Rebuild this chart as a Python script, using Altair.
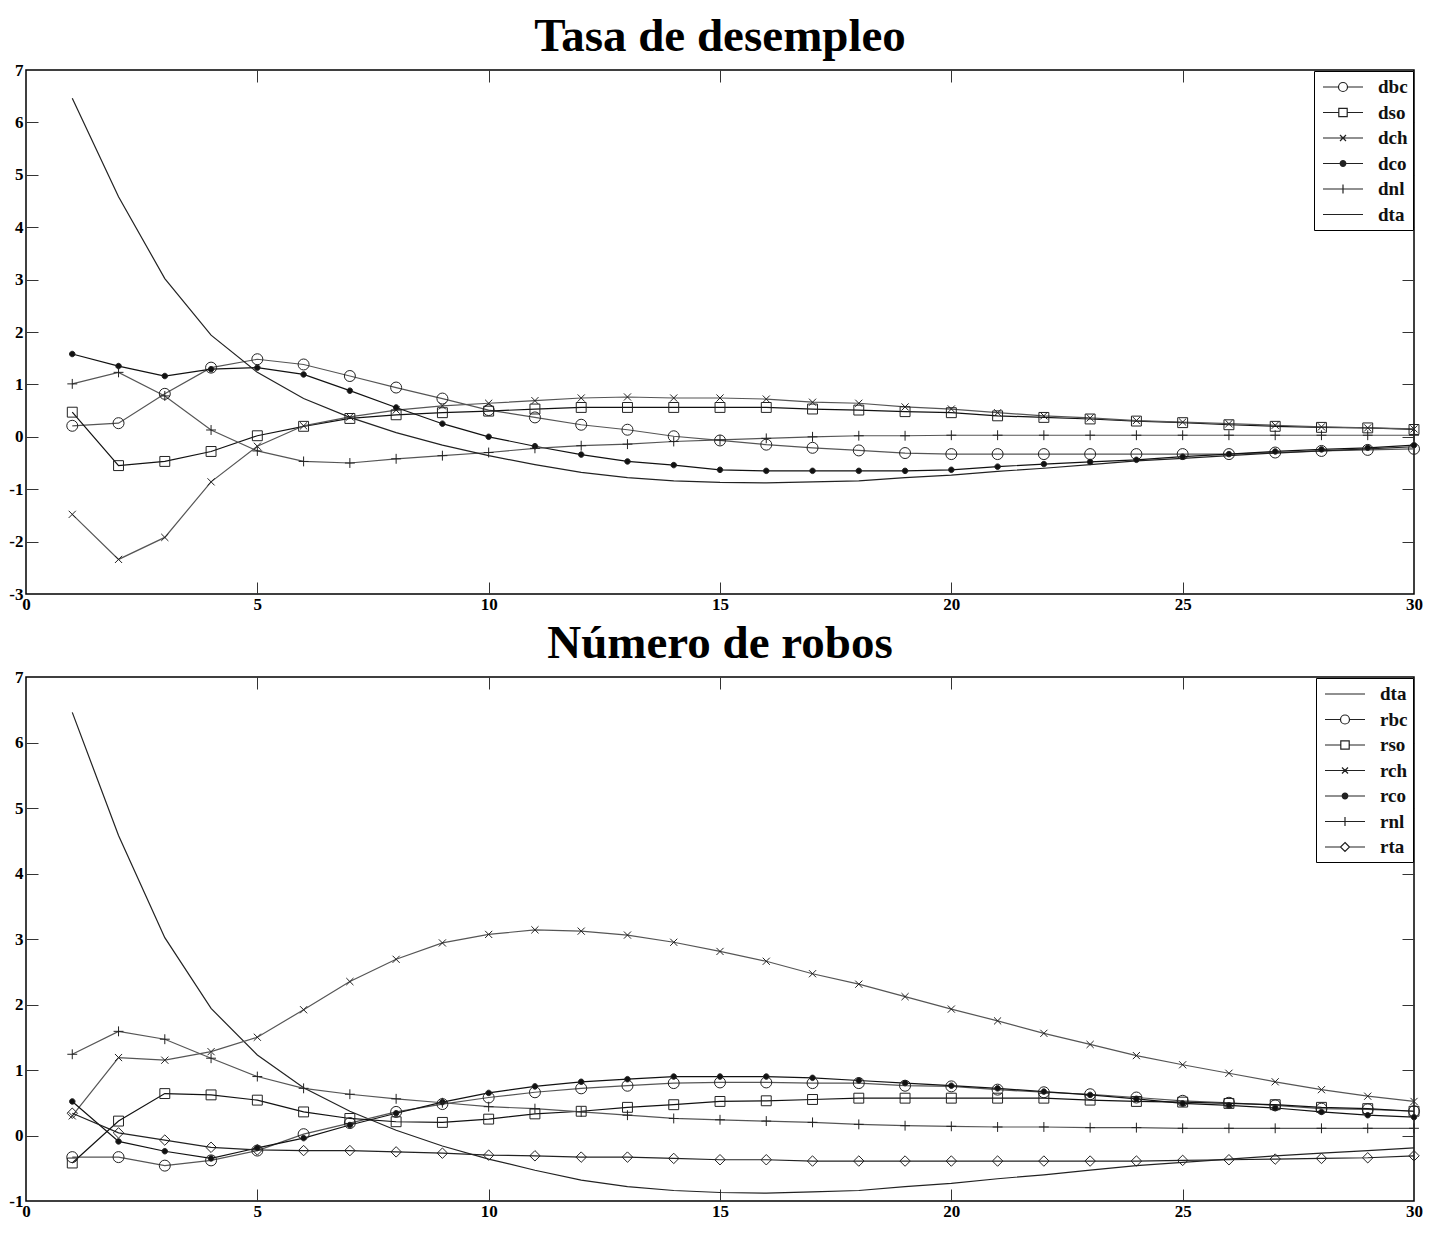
import altair as alt
import pandas as pd

periods = list(range(1, 31))

# --- Tasa de desempleo ---
dbc = [0.21, 0.26, 0.82, 1.32, 1.48, 1.38, 1.16, 0.94, 0.73, 0.51, 0.37, 0.23, 0.135, 0.01, -0.07,
       -0.15, -0.21, -0.26, -0.31, -0.33, -0.33, -0.33, -0.33, -0.33, -0.33, -0.33, -0.30, -0.27, -0.25, -0.23]
dso = [0.47, -0.55, -0.47, -0.28, 0.02, 0.20, 0.35, 0.42, 0.46, 0.49, 0.53, 0.56, 0.56, 0.56, 0.56,
       0.56, 0.53, 0.51, 0.48, 0.46, 0.40, 0.37, 0.34, 0.30, 0.27, 0.23, 0.20, 0.18, 0.17, 0.14]
dch = [-1.48, -2.34, -1.92, -0.86, -0.18, 0.21, 0.38, 0.51, 0.59, 0.64, 0.69, 0.74, 0.76, 0.74, 0.74,
       0.72, 0.66, 0.64, 0.57, 0.53, 0.46, 0.40, 0.36, 0.31, 0.28, 0.25, 0.22, 0.19, 0.17, 0.15]
dco = [1.58, 1.35, 1.16, 1.29, 1.32, 1.19, 0.88, 0.56, 0.25, 0.00, -0.18, -0.34, -0.47, -0.54, -0.63,
       -0.65, -0.65, -0.65, -0.65, -0.63, -0.57, -0.52, -0.48, -0.44, -0.38, -0.33, -0.28, -0.24, -0.21, -0.16]
dnl = [1.01, 1.23, 0.78, 0.13, -0.27, -0.47, -0.50, -0.42, -0.36, -0.30, -0.22, -0.17, -0.14, -0.09, -0.06,
       -0.03, 0.00, 0.02, 0.02, 0.03, 0.03, 0.03, 0.03, 0.03, 0.03, 0.03, 0.03, 0.03, 0.03, 0.03]
dta = [6.46, 4.58, 3.02, 1.94, 1.23, 0.73, 0.37, 0.08, -0.16, -0.36, -0.53, -0.68, -0.78, -0.84, -0.87,
       -0.88, -0.86, -0.84, -0.78, -0.73, -0.66, -0.60, -0.53, -0.46, -0.41, -0.36, -0.31, -0.27, -0.23, -0.19]

# --- Número de robos ---
rbc = [-0.33, -0.33, -0.46, -0.38, -0.23, 0.02, 0.19, 0.36, 0.48, 0.58, 0.66, 0.72, 0.76, 0.80, 0.81,
       0.81, 0.80, 0.80, 0.76, 0.75, 0.70, 0.66, 0.63, 0.58, 0.53, 0.50, 0.46, 0.41, 0.40, 0.37]
rso = [-0.42, 0.22, 0.64, 0.62, 0.54, 0.36, 0.26, 0.21, 0.20, 0.25, 0.33, 0.37, 0.43, 0.47, 0.52,
       0.53, 0.55, 0.57, 0.57, 0.57, 0.57, 0.57, 0.54, 0.52, 0.51, 0.49, 0.47, 0.43, 0.41, 0.37]
rch = [0.30, 1.19, 1.15, 1.28, 1.50, 1.92, 2.35, 2.69, 2.94, 3.07, 3.14, 3.12, 3.06, 2.95, 2.81,
       2.66, 2.47, 2.31, 2.12, 1.93, 1.75, 1.56, 1.39, 1.22, 1.08, 0.95, 0.82, 0.70, 0.60, 0.52]
rco = [0.52, -0.09, -0.24, -0.35, -0.19, -0.04, 0.16, 0.34, 0.51, 0.65, 0.75, 0.82, 0.86, 0.90, 0.90,
       0.90, 0.88, 0.84, 0.80, 0.76, 0.72, 0.67, 0.62, 0.56, 0.49, 0.46, 0.42, 0.36, 0.31, 0.28]
rnl = [1.24, 1.59, 1.47, 1.18, 0.90, 0.72, 0.63, 0.56, 0.50, 0.44, 0.41, 0.36, 0.31, 0.26, 0.24,
       0.22, 0.20, 0.17, 0.15, 0.14, 0.13, 0.13, 0.12, 0.12, 0.11, 0.11, 0.11, 0.11, 0.11, 0.11]
rta = [0.34, 0.04, -0.07, -0.18, -0.22, -0.23, -0.23, -0.25, -0.27, -0.30, -0.31, -0.33, -0.33, -0.35, -0.37,
       -0.37, -0.39, -0.39, -0.39, -0.39, -0.39, -0.39, -0.39, -0.39, -0.38, -0.37, -0.36, -0.35, -0.34, -0.31]

top_series = {"dbc": dbc, "dso": dso, "dch": dch, "dco": dco, "dnl": dnl, "dta": dta}
top_markers = ["circle", "square", "x", "dot", "plus", "none"]
top_colors = ["#555555", "#111111", "#555555", "#111111", "#555555", "#222222"]

bot_series = {"dta": dta, "rbc": rbc, "rso": rso, "rch": rch, "rco": rco, "rnl": rnl, "rta": rta}
bot_markers = ["none", "circle", "square", "x", "dot", "plus", "diamond"]
bot_colors = ["#444444", "#111111", "#444444", "#222222", "#333333", "#444444", "#111111"]

# marker glyphs (unit space, mark size 121 -> 1 unit = 5.5 px)
PLOT_PATH = {
    "circle": "M-1,0A1,1 0 1,1 1,0A1,1 0 1,1 -1,0Z",
    "square": "M-0.9,-0.9H0.9V0.9H-0.9Z",
    "x": "M-0.65,-0.65L0.65,0.65M-0.65,0.65L0.65,-0.65",
    "dot": "M-0.5,0A0.5,0.5 0 1,1 0.5,0A0.5,0.5 0 1,1 -0.5,0Z",
    "plus": "M-0.9,0H0.9M0,-0.9V0.9",
    "diamond": "M0,-0.95L0.95,0L0,0.95L-0.95,0Z",
    "none": "M0,0",
}
# legend glyphs (symbol size 400 -> 1 unit = 10 px): line segment + marker
LEG_PATH = {
    "circle": "M-2,0H-0.45M0.45,0H2M-0.45,0A0.45,0.45 0 1,1 0.45,0A0.45,0.45 0 1,1 -0.45,0Z",
    "square": "M-2,0H-0.42M0.42,0H2M-0.42,-0.42H0.42V0.42H-0.42Z",
    "x": "M-2,0H2M-0.3,-0.3L0.3,0.3M-0.3,0.3L0.3,-0.3",
    "dot": "M-2,0H2M-0.28,0A0.28,0.28 0 1,1 0.28,0A0.28,0.28 0 1,1 -0.28,0ZM-0.16,0A0.16,0.16 0 1,1 0.16,0A0.16,0.16 0 1,1 -0.16,0ZM-0.06,0A0.06,0.06 0 1,1 0.06,0A0.06,0.06 0 1,1 -0.06,0Z",
    "plus": "M-2,0H2M0,-0.45V0.45",
    "diamond": "M-2,0H-0.45M0.45,0H2M0,-0.45L0.45,0L0,0.45L-0.45,0Z",
    "none": "M-2,0H2",
}

W = 1388
FONT = "Liberation Serif"


def panel(series, markers, colors, title, ydom, H):
    order = list(series.keys())
    rows = []
    for name, vals in series.items():
        for t, v in zip(periods, vals):
            rows.append({"t": t, "v": v, "serie": name})
    df = pd.DataFrame(rows)

    xs = alt.Scale(domain=[0, 30], nice=False, zero=False)
    ys = alt.Scale(domain=ydom, nice=False, zero=False)
    xt = list(range(0, 31, 5))
    yt = list(range(ydom[0], ydom[1] + 1))
    lab = dict(labelFont=FONT, labelFontWeight="bold", labelFontSize=17, labelColor="black",
               labelExpr="datum.value + ''")

    ax_x_main = alt.Axis(orient="bottom", values=xt, ticks=False, domain=False, grid=False,
                         title=None, labelPadding=2, labelFlush=False, **lab)
    ax_y_main = alt.Axis(orient="left", values=yt, ticks=False, domain=False, grid=False,
                         title=None, labelPadding=3, labelFlush=False, **lab)
    tk = dict(labels=False, domain=False, grid=False, title=None, tickSize=12,
              tickColor="#333333", tickWidth=1)
    ax_x_a = alt.Axis(orient="top", offset=-H, values=xt[1:-1], **tk)
    ax_x_b = alt.Axis(orient="bottom", offset=-H, values=xt[1:-1], **tk)
    ax_y_a = alt.Axis(orient="right", offset=-W, values=yt[1:-1], **tk)
    ax_y_b = alt.Axis(orient="left", offset=-W, values=yt[1:-1], **tk)

    base = alt.Chart(df)
    lines = base.mark_line(strokeWidth=1.2).encode(
        x=alt.X("t:Q", scale=xs, axis=ax_x_main),
        y=alt.Y("v:Q", scale=ys, axis=ax_y_main),
        color=alt.Color("serie:N", scale=alt.Scale(domain=order, range=colors), legend=None),
    )
    fills = ["#111111" if m == "dot" else "transparent" for m in markers]
    pts = base.transform_filter(
        alt.FieldOneOfPredicate(field="serie", oneOf=[n for n, m in zip(order, markers) if m != "none"])
    ).mark_point(filled=True, size=121, stroke="#222222", strokeWidth=1, opacity=1).encode(
        x=alt.X("t:Q", scale=xs, axis=ax_x_a),
        y=alt.Y("v:Q", scale=ys, axis=ax_y_a),
        shape=alt.Shape("serie:N", scale=alt.Scale(domain=order, range=[PLOT_PATH[m] for m in markers]), legend=None),
        fill=alt.Fill("serie:N", scale=alt.Scale(domain=order, range=fills), legend=None),
    )
    leg = base.mark_point(opacity=0, filled=False, color="#222222").encode(
        x=alt.X("t:Q", scale=xs, axis=ax_x_b),
        y=alt.Y("v:Q", scale=ys, axis=ax_y_b),
        shape=alt.Shape(
            "serie:N",
            scale=alt.Scale(domain=order, range=[LEG_PATH[m] for m in markers]),
            legend=alt.Legend(
                orient="top-right", offset=1, title=None, padding=5,
                strokeColor="black", fillColor="white",
                symbolSize=400, symbolOffset=13, labelOffset=24,
                symbolStrokeWidth=1.2, symbolStrokeColor="#222222", symbolOpacity=1,
                symbolFillColor="white",
                labelFont=FONT, labelFontWeight="bold", labelFontSize=19, labelColor="#111111",
                rowPadding=4.5,
            ),
        ),
    )
    return alt.layer(lines, pts, leg).resolve_scale(
        shape="independent", fill="independent"
    ).resolve_axis(x="independent", y="independent").properties(
        width=W, height=H,
        title=alt.Title(title, font=FONT, fontSize=47, fontWeight="bold", color="black",
                        anchor="middle", frame="group", offset=0),
    )


top = panel(top_series, top_markers, top_colors, "Tasa de desempleo", [-3, 7], 524)
bot = panel(bot_series, bot_markers, bot_colors, "Número de robos", [-1, 7], 524)

chart = alt.vconcat(top, bot, spacing=6).properties(
    padding={"left": 0, "top": 4, "right": 0, "bottom": 0},
    background="white",
).configure_view(
    stroke="black", strokeWidth=1.5
)

chart.save("out.html", embed_options={"renderer": "svg", "actions": False})
